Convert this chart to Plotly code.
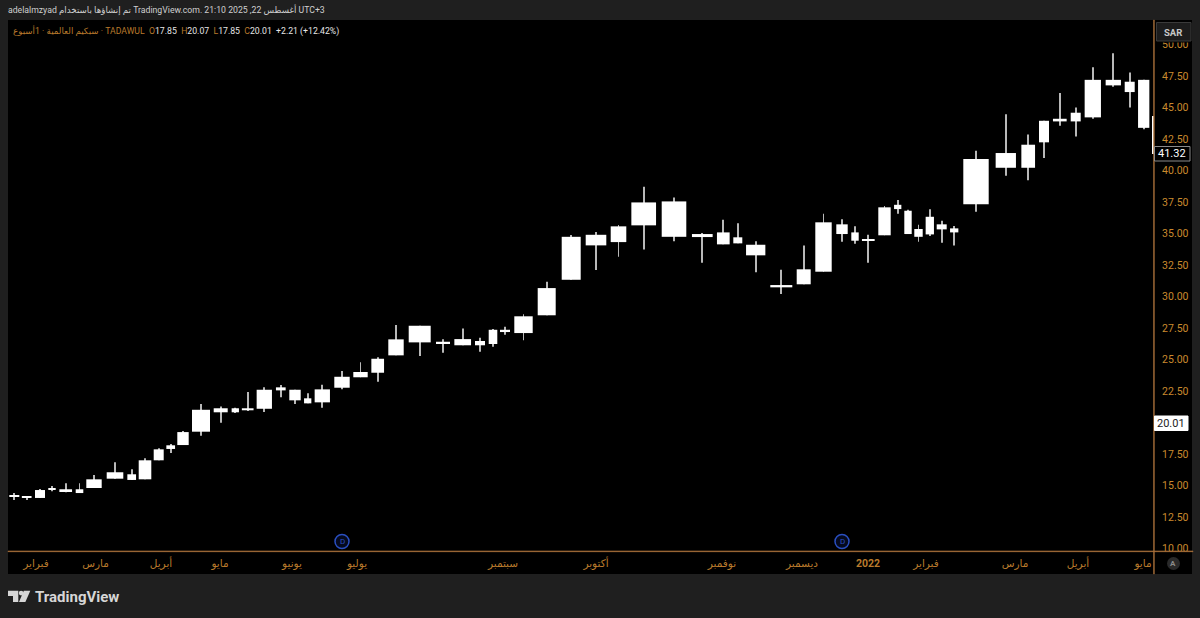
import numpy as np
import plotly.graph_objs as go

# weekly candles, width of each one follows traded volume
week_pos = [14.3, 26.7, 40, 52, 65.7, 79.5, 94, 115, 131.7, 145, 158.7, 170.7, 183, 201, 220.7, 235.3, 247.7,
            264.3, 280.8, 295, 307.7, 322.3, 342, 360.5, 377.7, 396, 419.7, 443, 462.7, 480, 493, 505,
            523.5, 546.7, 571.2, 596, 618.5, 643.7, 674, 702.3, 723.3, 737.8, 755.7, 781.3,
            803.7, 823.5, 842, 855, 868.3, 884.5, 897.7, 908, 918.5, 929.8, 941.7, 954.2, 976,
            1005.8, 1028.2, 1044, 1059.8, 1075.7, 1092.8, 1113.3, 1129.7, 1143.7, 1160]
week_vol = [10, 9.7, 10, 7.4, 12.7, 7.6, 15.4, 16.6, 8.7, 12.6, 10, 8.7, 11.4, 18, 14, 7.3, 11.7,
            15.3, 9.7, 11.4, 7.3, 15.3, 15.4, 14.4, 12.7, 15.4, 22, 14, 16.7, 10, 8.6, 10,
            18.4, 18, 19, 20.6, 15.6, 24.7, 24.6, 20.7, 12.7, 9, 19.3, 22,
            14, 16.4, 11.4, 7.4, 12.7, 12.4, 7.3, 7.4, 8.4, 8.3, 10, 8.3, 25.4,
            20.3, 13.7, 10, 13.7, 10, 16.3, 15.3, 10, 11.3, 16]
week_high = [14.40, 14.17, 14.72, 14.96, 15.17, 15.17, 15.83, 16.84, 16.28, 17.16, 17.95, 18.29, 19.32, 21.47,
             21.28, 21.17, 22.42, 22.79, 22.97, 22.60, 22.32, 23.00, 24.09, 24.78, 25.17, 27.74, 27.68,
             26.60, 27.47, 26.73, 27.42, 27.60, 28.59, 31.17, 34.88, 35.12, 35.67, 38.71, 37.87, 35.04,
             36.09, 35.81, 34.38, 32.13, 34.06, 36.57, 36.13, 35.57, 34.90, 37.18, 37.66, 36.89, 35.70,
             36.92, 36.01, 35.59, 41.57, 44.46, 42.87, 43.95, 46.15, 45.01, 48.19, 49.32, 47.79, 47.20, 44.50]
week_low = [13.85, 13.85, 14.01, 14.54, 14.46, 14.40, 14.80, 15.54, 15.44, 15.49, 17.00, 17.58, 18.21, 18.95,
            19.98, 20.75, 20.91, 20.83, 22.00, 21.47, 21.52, 21.17, 22.63, 23.59, 23.24, 25.33, 25.28,
            25.54, 26.13, 25.62, 26.01, 26.97, 26.52, 28.51, 31.33, 32.10, 33.16, 33.74, 34.38, 32.68,
            34.14, 34.22, 31.92, 30.20, 30.97, 31.97, 34.35, 34.19, 32.68, 34.86, 36.57, 34.96, 34.35,
            34.80, 34.27, 34.06, 36.73, 39.59, 39.22, 40.99, 43.55, 42.71, 44.11, 46.65, 45.01, 43.27, 41.20]
body_top = [14.24, 14.14, 14.64, 14.78, 14.70, 14.70, 15.49, 16.05, 15.89, 17.00, 17.87, 18.19, 19.24, 21.01,
            21.13, 21.13, 21.13, 22.60, 22.79, 22.60, 21.92, 22.63, 23.63, 24.01, 25.06, 26.60, 27.68,
            26.41, 26.62, 26.47, 27.36, 27.36, 28.43, 30.67, 34.74, 34.90, 35.57, 37.47, 37.55, 34.96,
            35.09, 34.70, 34.11, 30.91, 32.16, 35.89, 35.73, 35.09, 34.56, 37.08, 37.28, 36.81, 35.36,
            36.33, 35.73, 35.41, 40.91, 41.39, 42.05, 43.95, 44.11, 44.59, 47.20, 47.20, 47.05, 47.20, 44.32]
body_bottom = [14.11, 14.08, 14.01, 14.67, 14.56, 14.40, 14.80, 15.54, 15.44, 15.49, 17.00, 17.90, 18.21, 19.27,
               20.81, 20.81, 20.97, 21.09, 22.55, 21.76, 21.52, 21.60, 22.76, 23.59, 23.95, 25.33, 26.36,
               26.23, 26.13, 26.13, 26.23, 27.18, 27.10, 28.51, 31.33, 34.06, 34.32, 35.65, 34.74, 34.72,
               34.14, 34.22, 33.27, 30.73, 30.97, 31.97, 34.96, 34.43, 34.48, 34.86, 36.94, 34.96, 34.74,
               34.93, 35.33, 35.09, 37.32, 40.22, 40.22, 42.24, 43.90, 43.90, 44.22, 46.76, 46.23, 43.39, 41.32]

# 20.00 sits under the close label in the original
price_ticks = [10, 12.5, 15, 17.5, 22.5, 25, 27.5, 30, 32.5, 35, 37.5, 40, 42.5, 45, 47.5, 50]
month_pos = [36, 95.5, 161, 220, 292, 357, 503, 596, 722, 802, 868, 926, 1015, 1078, 1143]
month_names = ['فبراير', 'مارس', 'أبريل', 'مايو', 'يونيو', 'يوليو', 'سبتمبر', 'أكتوبر', 'نوفمبر', 'ديسمبر',
               '<b>2022</b>', 'فبراير', 'مارس', 'أبريل', 'مايو']

last_close = 41.32
cur_close = 20.01

bg = '#1f1f1f'
orange = '#b97a2c'
orange_line = '#a8703a'
font = 'Roboto, DejaVu Sans'

W, H = 1200, 618
L, R, T, B = 8, 1154, 20, 551


# paper coordinates are relative to the plot area
def px(x):
    return (x - L) / (R - L)


def py(y):
    return (B - y) / (B - T)


week_high = np.array(week_high)
week_low = np.array(week_low)
body_top = np.array(body_top)
body_bottom = np.array(body_bottom)

data = [go.Bar(x = week_pos, y = week_high - week_low, base = week_low, width = 1,
               marker = dict(color = '#b8b8b8', line = dict(width = 0)), hoverinfo = 'skip'),
        go.Bar(x = week_pos, y = body_top - body_bottom, base = body_bottom, width = week_vol,
               marker = dict(color = '#ffffff', line = dict(width = 0)), hoverinfo = 'skip')]


def box(x0, y0, x1, y1, fill, line = None, layer = 'above', kind = 'rect', lw = 1):
    return dict(type = kind, xref = 'paper', yref = 'paper', x0 = px(x0), x1 = px(x1), y0 = py(y1), y1 = py(y0),
                fillcolor = fill, line = dict(color = line, width = lw) if line else dict(width = 0), layer = layer)


def path(points, fill):
    d = 'M ' + ' L '.join('%f,%f' % (px(a), py(b)) for a, b in points) + ' Z'
    return dict(type = 'path', xref = 'paper', yref = 'paper', path = d, fillcolor = fill,
                line = dict(width = 0), layer = 'above')


logo = '#d6d6d6'
shapes = [
    # panels around the plot
    box(8, 20, 1192, 574, '#000000', layer = 'below'),
    # covers for the tick labels cut by the button and the time scale
    box(1155, 20, 1192, 42.5, '#000000'),
    box(1155, 551.5, 1192, 574, '#000000'),
    # scale borders
    box(8, 551, 1193, 551.7, orange_line, line = orange_line, lw = 0.6),
    box(1153.6, 20, 1154.3, 574, orange_line, line = orange_line, lw = 0.6),
    # currency button
    box(1156.5, 22.5, 1191, 41, '#1c1c1c', line = '#3a3a3a', lw = 1),
    # price labels
    box(1154.5, 146.5, 1190, 161, '#000000', line = '#8a8a8a', lw = 1),
    box(1154.5, 416, 1188, 430.5, '#ffffff', line = '#ffffff', lw = 1),
    # dividend markers
    box(335, 534.5, 349, 548.5, '#050a1e', line = '#2a4fc0', kind = 'circle', lw = 1.5),
    box(835, 534.5, 849, 548.5, '#050a1e', line = '#2a4fc0', kind = 'circle', lw = 1.5),
    # auto scale button
    box(1167, 557, 1180, 570, '#2a2a2a', kind = 'circle'),
    # logo
    path([(8, 590.8), (18.3, 590.8), (18.3, 602), (13, 602), (13, 596), (8, 596)], logo),
    box(18.8, 590.8, 23.4, 595.4, logo, kind = 'circle'),
    path([(23.8, 590.8), (30.3, 590.8), (25.4, 602), (19, 602)], logo),
]


def label(x, y, text, color, size, anchor = 'center', weight = None):
    t = '<b>%s</b>' % text if weight else text
    return dict(xref = 'paper', yref = 'paper', x = px(x), y = py(y), text = t, showarrow = False,
                xanchor = anchor, yanchor = 'middle', font = dict(family = font, color = color, size = size))


def ohlc(tag, val):
    return '<span style="color:%s">%s</span><span style="color:#e6e6e6">%s</span>' % (orange, tag, val)


legend_text = ('أسبوع\u200e1 · سبكيم العالمية · TADAWUL  ' + ohlc('O', '17.85') + '  ' + ohlc('H', '20.07') + '  '
               + ohlc('L', '17.85') + '  ' + ohlc('C', '20.01') + '  '
               + '<span style="color:#e6e6e6">+2.21 (+12.42%)</span>')

annotations = [
    label(6, 10, 'adelalmzyad تم إنشاؤها باستخدام TradingView.com. 21:10 2025 ,22 أغسطس UTC+3', '#cfcfcf', 8.7, 'left'),
    label(11, 31, legend_text, orange, 8.7, 'left'),
    label(1173.5, 32, 'SAR', '#c8c8c8', 9.5, weight = True),
    label(1172, 154, '%.2f' % last_close, '#ffffff', 11),
    label(1171, 423.5, '%.2f' % cur_close, '#222222', 11),
    label(342, 541.5, 'D', '#2a4fc0', 8),
    label(842, 541.5, 'D', '#2a4fc0', 8),
    label(1173.5, 563.5, 'A', '#8a8a8a', 8, weight = True),
    label(33, 596.5, 'TradingView', logo, 15, 'left', weight = True),
]

layout = dict(width = W, height = H, showlegend = False, barmode = 'overlay',
              paper_bgcolor = bg, plot_bgcolor = '#000000',
              margin = dict(l = L, r = W - R, t = T, b = H - B, pad = 0),
              font = dict(family = font, color = orange, size = 11),
              xaxis = dict(range = [L, R], tickvals = month_pos, ticktext = month_names, showgrid = False,
                           zeroline = False, ticks = 'outside', ticklen = 2, tickcolor = 'rgba(0,0,0,0)',
                           tickangle = 0, tickfont = dict(size = 10.5, color = orange), showline = False),
              yaxis = dict(range = [9.80, 51.95], side = 'right', tickvals = price_ticks, tickformat = '.2f',
                           showgrid = False, zeroline = False, ticks = 'outside', ticklen = 5,
                           tickcolor = 'rgba(0,0,0,0)', tickfont = dict(size = 10.5, color = '#c98a2e'),
                           showline = False),
              shapes = shapes, annotations = annotations)

fig = go.Figure(data = data, layout = layout)
fig.write_html("out.html", config = dict(displayModeBar = False), post_script = "document.body.style.margin = '0';")
